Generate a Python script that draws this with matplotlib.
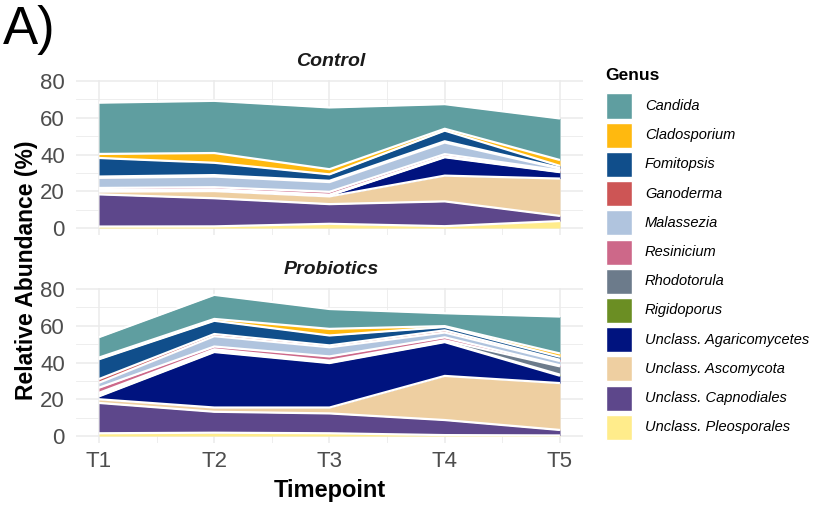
import matplotlib
matplotlib.use("Agg")
import matplotlib.pyplot as plt
from matplotlib.patches import Rectangle
import numpy as np

plt.rcParams['font.family'] = ['Liberation Sans', 'DejaVu Sans']

# ---- data -------------------------------------------------------------
timepoints = ["T1", "T2", "T3", "T4", "T5"]

genera = ["Candida", "Cladosporium", "Fomitopsis", "Ganoderma", "Malassezia",
          "Resinicium", "Rhodotorula", "Rigidoporus",
          "Unclass. Agaricomycetes", "Unclass. Ascomycota",
          "Unclass. Capnodiales", "Unclass. Pleosporales"]

genus_colors = ["#5F9EA0", "#FFB90F", "#104E8B", "#CD5555", "#B0C4DE",
                "#CD6889", "#6C7B8B", "#6B8E23", "#00137F", "#EECFA1",
                "#5D478B", "#FFEC8B"]

# relative abundance (%) per genus, T1..T5
control_candida      = [27.9, 28.4, 33.6, 13.4, 22.6]
control_cladosporium = [2.2, 5.3, 2.8, 1.0, 3.2]
control_fomitopsis   = [10.1, 6.7, 3.5, 5.8, 1.1]
control_ganoderma    = [0.7, 0.8, 0.7, 0.7, 0.4]
control_malassezia   = [5.5, 5.8, 5.3, 6.3, 1.0]
control_resinicium   = [1.2, 1.2, 1.6, 1.2, 0.4]
control_rhodotorula  = [0.2, 0.2, 0.2, 0.2, 0.3]
control_rigidoporus  = [0.2, 0.2, 0.2, 0.3, 0.2]
control_agaricomyc   = [0.4, 0.5, 0.5, 10.0, 3.5]
control_ascomycota   = [1.5, 3.9, 4.2, 14.0, 20.3]
control_capnodiales  = [17.5, 15.3, 10.7, 13.5, 2.8]
control_pleosporales = [0.8, 0.9, 2.3, 1.0, 3.8]

probio_candida      = [11.1, 13.1, 10.8, 7.0, 20.1]
probio_cladosporium = [0.9, 1.0, 3.6, 0.5, 1.8]
probio_fomitopsis   = [10.8, 7.2, 5.4, 1.8, 1.6]
probio_ganoderma    = [2.0, 1.2, 1.0, 1.2, 0.7]
probio_malassezia   = [2.7, 5.6, 5.0, 2.6, 2.3]
probio_resinicium   = [2.8, 1.5, 2.3, 1.6, 0.6]
probio_rhodotorula  = [0.9, 0.6, 0.8, 0.6, 4.5]
probio_rigidoporus  = [1.0, 0.9, 0.5, 0.4, 0.6]
probio_agaricomyc   = [1.6, 30.2, 24.2, 18.4, 4.0]
probio_ascomycota   = [2.0, 2.3, 3.2, 24.0, 25.5]
probio_capnodiales  = [16.5, 11.4, 10.8, 8.2, 3.0]
probio_pleosporales = [1.5, 1.8, 1.5, 0.5, 0.3]

control = [control_candida, control_cladosporium, control_fomitopsis,
           control_ganoderma, control_malassezia, control_resinicium,
           control_rhodotorula, control_rigidoporus, control_agaricomyc,
           control_ascomycota, control_capnodiales, control_pleosporales]
probiotics = [probio_candida, probio_cladosporium, probio_fomitopsis,
              probio_ganoderma, probio_malassezia, probio_resinicium,
              probio_rhodotorula, probio_rigidoporus, probio_agaricomyc,
              probio_ascomycota, probio_capnodiales, probio_pleosporales]

panels = [("Control", control), ("Probiotics", probiotics)]

# ---- figure -------------------------------------------------------------
W, H = 814, 507
fig = plt.figure(figsize=(W / 100, H / 100), dpi=100)


def px_axes(x0, y0, x1, y1):
    return fig.add_axes([x0 / W, 1 - y1 / H, (x1 - x0) / W, (y1 - y0) / H])


def fig_xy(x, y):
    return x / W, 1 - y / H


grid_col = "#EBEBEB"
tick_col = "#4D4D4D"
x = np.arange(1, len(timepoints) + 1)

boxes = [(76, 79.6, 583, 235.1), (76, 287.6, 583, 443.1)]

for (title, data), box in zip(panels, boxes):
    ax = px_axes(*box)
    ax.set_xlim(0.8, 5.2)
    ax.set_ylim(-3.85, 80.75)
    for s in ax.spines.values():
        s.set_visible(False)
    ax.set_facecolor("white")

    ax.set_yticks([0, 20, 40, 60, 80])
    ax.set_yticks([10, 30, 50, 70], minor=True)
    ax.set_xticks(x)
    ax.set_xticks(x[:-1] + 0.5, minor=True)
    ax.grid(which="major", color=grid_col, linewidth=1.1, zorder=0)
    ax.grid(which="minor", color=grid_col, linewidth=0.6, zorder=0)
    ax.set_axisbelow(True)
    ax.tick_params(which="both", length=0)
    ax.tick_params(axis="y", labelsize=16, labelcolor=tick_col, pad=8)
    if title == "Probiotics":
        ax.set_xticklabels(timepoints)
        ax.tick_params(axis="x", labelsize=16, labelcolor=tick_col, pad=6)
    else:
        ax.set_xticklabels([])

    # stack from the last genus upward, first genus on top
    base = np.zeros(len(x))
    tops = []
    for g in range(len(genera) - 1, -1, -1):
        top = base + np.array(data[g])
        ax.fill_between(x, base, top, color=genus_colors[g],
                        linewidth=0, zorder=2)
        tops.append(top)
        base = top
    for top in tops:
        ax.plot(x, top, color="white", linewidth=1.6, zorder=3,
                solid_joinstyle="round", solid_capstyle="butt")

    sx, sy = fig_xy(331, box[1] - 18)
    fig.text(sx, sy, title, ha="center", va="center", fontsize=14,
             fontweight="bold", fontstyle="italic", color="#1A1A1A")

# axis titles
tx, ty = fig_xy(330, 490)
fig.text(tx, ty, "Timepoint", ha="center", va="center", fontsize=17,
         fontweight="bold")
lx, ly = fig_xy(27, 270)
fig.text(lx, ly, "Relative Abundance (%)", ha="center", va="center",
         rotation=90, fontsize=16.5, fontweight="bold")

# panel tag
ax_, ay_ = fig_xy(3, 30)
fig.text(ax_, ay_, "A)", ha="left", va="center", fontsize=38)

# legend
gx, gy = fig_xy(605, 76)
fig.text(gx, gy, "Genus", ha="left", va="center", fontsize=12.5,
         fontweight="bold")
for i, (g, c) in enumerate(zip(genera, genus_colors)):
    cy = 106 + 29.2 * i
    x0, y0 = fig_xy(606, cy + 12.5)
    fig.add_artist(Rectangle((x0, y0), 26 / W, 25 / H, transform=fig.transFigure,
                             facecolor=c, edgecolor="white", linewidth=1.0))
    lx_, ly_ = fig_xy(645, cy)
    fig.text(lx_, ly_, g, ha="left", va="center", fontsize=10.5,
             fontstyle="italic")

fig.savefig("out.png", dpi=100, facecolor="white")
